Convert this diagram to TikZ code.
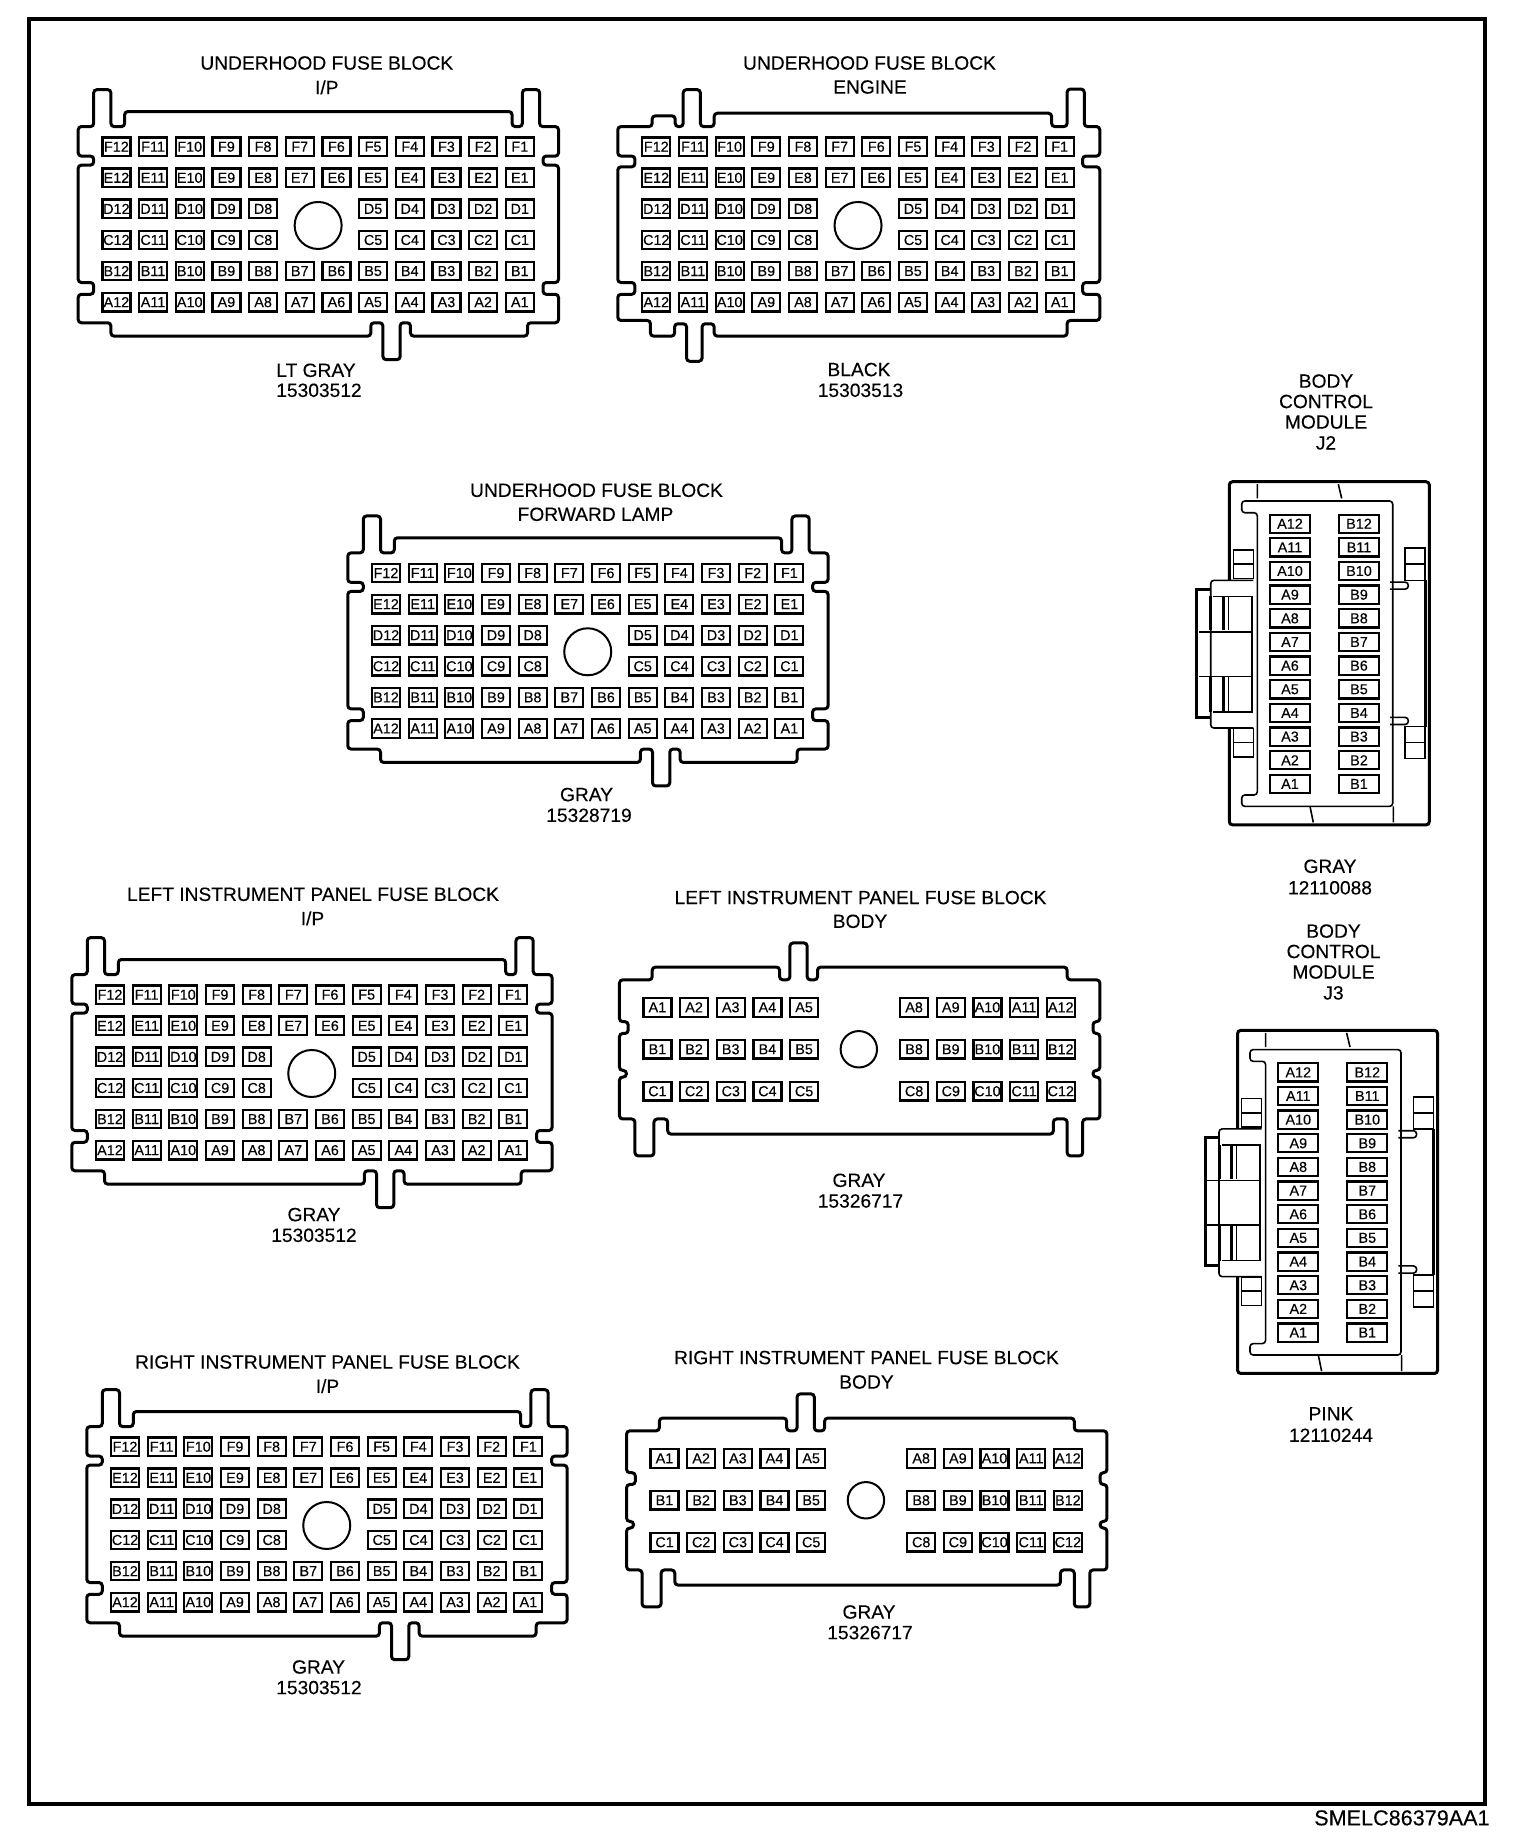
\documentclass[tikz,border=0pt]{standalone}
\usepackage{fontspec}
\setmainfont[FakeBold=0.2]{Liberation Sans}
\usepackage{tikz}
\usetikzlibrary{positioning}

% 72 pin block with its circle
\newcommand{\SixRow}[3]{
  \begin{scope}[shift={(#2,#3)}, Block]
    \foreach \l/\r in {F/0,E/1,B/4,A/5}
      \foreach \c in {1,...,12}
        \node[Pin] (#1\l\c) at ({(12-\c)*35.5},{\r*30.9}) {\l\c};
    \foreach \l/\r in {D/2,C/3}
      \foreach \c in {1,...,5,8,9,...,12}
        \node[Pin] (#1\l\c) at ({(12-\c)*35.5},{\r*30.9}) {\l\c};
    \node[Hole, minimum size=23.5pt] (#1hole) at (195.3,78.3) {};
  \end{scope}
}

% 30 pin block with its circle
\newcommand{\ThreeRow}[3]{
  \begin{scope}[shift={(#2,#3)}, Block]
    \foreach \l/\r in {A/0,B/1,C/2} {
      \foreach \c in {1,...,5}
        \node[Pin] (#1\l\c) at ({(\c-1)*35.5},{\r*41.7}) {\l\c};
      \foreach \c in {8,9,...,12}
        \node[Pin] (#1\l\c) at ({(\c-8)*35.5+248.5},{\r*41.7}) {\l\c};
    }
    \node[Hole, minimum size=18.2pt] (#1hole) at (195,41.7) {};
    \draw[Shell] (-5,-27.3) -- (-5,-40) -- (118.3,-40) -- (118.3,-27.3) -- (128.3,-27.3)
      -- (128.3,-64) -- (145,-64) -- (145,-27.3) -- (155,-27.3) -- (155,-40) -- (396.7,-40)
      -- (396.7,-27.3) -- (428.3,-27.3) -- (428.3,14.3) -- (421.7,14.3) -- (421.7,26) -- (428.3,26)
      -- (428.3,62.7) -- (421.7,62.7) -- (421.7,69.3) -- (428.3,69.3) -- (428.3,111) -- (411.7,111)
      -- (411.7,147.7) -- (396.7,147.7) -- (396.7,111) -- (383.3,111) -- (383.3,126) -- (10,126)
      -- (10,111) -- (-3.3,111) -- (-3.3,147.7) -- (-21.7,147.7) -- (-21.7,111) -- (-36.7,111)
      -- (-36.7,69.3) -- (-30,69.3) -- (-30,62.7) -- (-36.7,62.7) -- (-36.7,26) -- (-28.3,26)
      -- (-28.3,14.3) -- (-36.7,14.3) -- (-36.7,-27.3) -- cycle;
  \end{scope}
}

% shell with the key at the lower middle
\newcommand{\ShellMid}[2]{
  \draw[Shell, shift={(#1,#2)}, Block] (-5.3,-20) -- (-5.3,-56.7) -- (-22,-56.7) -- (-22,-20) -- (-37,-20)
    -- (-37,9.3) -- (-22,9.3) -- (-22,18.3) -- (-37,18.3) -- (-37,135) -- (-22,135) -- (-22,146.7)
    -- (-37,146.7) -- (-37,175) -- (-5.3,175) -- (-5.3,188.3) -- (246.3,188.3) -- (246.3,175)
    -- (258,175) -- (258,211.7) -- (274.7,211.7) -- (274.7,175) -- (284.7,175) -- (284.7,188.3)
    -- (398,188.3) -- (398,175) -- (428,175) -- (428,146.7) -- (413,146.7) -- (413,135) -- (428,135)
    -- (428,18.3) -- (413,18.3) -- (413,9.3) -- (428,9.3) -- (428,-20) -- (409.7,-20) -- (409.7,-56.7)
    -- (393,-56.7) -- (393,-20) -- (383,-20) -- (383,-35) -- (8,-35) -- (8,-20) -- cycle;
}

% two column module connector
\newcommand{\TwoCol}[3]{
  \begin{scope}[shift={(#2,#3)}, y=-0.534pt]
    \foreach \c in {1,...,12} {
      \node[LongPin] (#1A\c) at (0,{(12-\c)*22.15}) {A\c};
      \node[LongPin] (#1B\c) at (69,{(12-\c)*22.15}) {B\c};
    }
    % housing
    \draw[Shell] (-60.7,53) -- (-60.7,-39.3) -- (139.3,-39.3) -- (139.3,282) -- (-60.7,282) -- (-60.7,191.3);
    \draw[Inner] (-32.7,-10.3) -- (-48.3,-10.3) -- (-48.3,-21.3) -- (102.7,-21.3) -- (102.7,264.7)
      -- (-48.3,264.7) -- (-48.3,254) -- (-32.7,254) -- cycle;
    \draw[Inner, rounded corners=0pt] (-32.7,-23.7) -- (-32.7,-37) (48.3,-37) -- (51.7,-23.7)
      (20,264.7) -- (23.3,279.7) (103.3,264.7) -- (103.3,279.7);
    % clips
    \foreach \t in {23,190} {
      \draw[Inner, rounded corners=0pt] (-56.7,\t+1.7) rectangle (-36.7,\t+28.3)
        (-56.7,\t+15) -- (-36.7,\t+15);
      \draw[Inner, rounded corners=0pt] (115,\t) rectangle (135,\t+30)
        (115,\t+15) -- (135,\t+15);
    }
    \draw[Inner] (100,54.7) -- (118.3,54.7) -- (118.3,61.3) -- (100,61.3);
    \draw[Inner] (100,181.3) -- (118.3,181.3) -- (118.3,188) -- (100,188);
    \draw[Shell, rounded corners=0pt] (135,53) -- (135,190);
    % latch
    \draw[Inner] (-36.7,53) -- (-79.3,53) -- (-79.3,191.3) -- (-36.7,191.3);
    \draw[Shell, rounded corners=0pt] (-80,61.3) -- (-93.3,61.3) -- (-93.3,181.3) -- (-80,181.3);
    \draw[Inner, rounded corners=0pt] (-76.7,68) -- (-38.3,68) -- (-38.3,176.3) -- (-76.7,176.3)
      (-91,101.3) -- (-38.3,101.3) (-91,143) -- (-38.3,143)
      (-61.7,68) -- (-61.7,99.7) (-61.7,143) -- (-61.7,176.3);
    \draw[Shell, rounded corners=0pt] (-79.3,68) -- (-79.3,99.7) (-66.7,68) -- (-66.7,99.7)
      (-79.3,143) -- (-79.3,176.3) (-66.7,143) -- (-66.7,176.3);
  \end{scope}
}

\begin{document}
\begin{tikzpicture}
  [
    x=0.5pt, y=-0.5pt,
    Block/.style={x=0.5165pt, y=-0.503pt},
    Pin/.style={rectangle, draw=black, line width=1.1pt, inner sep=0pt, minimum width=14pt, minimum height=9.3pt, font=\fontsize{7.2}{8}\selectfont},
    LongPin/.style={Pin, minimum width=20pt, minimum height=9.1pt},
    Hole/.style={circle, draw=black, line width=1pt, inner sep=0pt},
    Shell/.style={draw=black, line width=1.5pt, rounded corners=1.6pt},
    Inner/.style={draw=black, line width=0.8pt, rounded corners=1.6pt},
    Caption/.style={inner sep=0pt, text height=6.9pt, text depth=0pt, font=\fontsize{9.6}{11}\selectfont}
  ]
  \useasboundingbox (0,0) rectangle (1520,1844);
  % Frame
  \draw[line width=2.2pt] (29,19) rectangle (1485,1804);

  % Blocks
  \SixRow{ui}{116.4}{146.7}
  \ShellMid{116.4}{146.7}

  \SixRow{ue}{656.3}{146.7}
  \draw[Shell, shift={(656.3,146.7)}, Block] (-37.3,-20) -- (-4,-20) -- (-4,-30.7) -- (18.3,-30.7) -- (18.3,-20)
    -- (26,-20) -- (26,-56.7) -- (42.7,-56.7) -- (42.7,-20) -- (56,-20) -- (56,-33.3) -- (382.7,-33.3)
    -- (382.7,-20) -- (397.7,-20) -- (397.7,-57.3) -- (414.3,-57.3) -- (414.3,-20) -- (429.3,-20)
    -- (429.3,9.3) -- (412.7,9.3) -- (412.7,20) -- (429.3,20) -- (429.3,135) -- (412.7,135) -- (412.7,146.7)
    -- (429.3,146.7) -- (429.3,172.7) -- (397.7,172.7) -- (397.7,188.3) -- (56,188.3) -- (56,176)
    -- (44.3,176) -- (44.3,213.3) -- (29.3,213.3) -- (29.3,176) -- (17.7,176) -- (17.7,188.3) -- (-5.7,188.3)
    -- (-5.7,172.7) -- (-37.3,172.7) -- (-37.3,146.7) -- (-20.7,146.7) -- (-20.7,135) -- (-37.3,135)
    -- (-37.3,20) -- (-20.7,20) -- (-20.7,9.3) -- (-37.3,9.3) -- cycle;

  \SixRow{uf}{386}{573}
  \ShellMid{386}{573}

  \SixRow{li}{110}{994.7}
  \ShellMid{110}{994.7}

  \ThreeRow{lb}{657.4}{1007.3}

  \SixRow{ri}{125}{1446.7}
  \ShellMid{125}{1446.7}

  \ThreeRow{rb}{664.5}{1458.3}

  \TwoCol{jb}{1290}{523.7}
  \TwoCol{jc}{1298.3}{1072.3}

  % Labels
  \node[Caption] (uiT) at (326.8,62.7) {UNDERHOOD FUSE BLOCK};
  \node[Caption] (uiS) at (326.8,87.3) {I/P};
  \node[Caption] (uiC) at (316,370) {LT GRAY};
  \node[Caption] (uiN) at (319,390) {15303512};

  \node[Caption] (ueT) at (869.5,62.7) {UNDERHOOD FUSE BLOCK};
  \node[Caption] (ueS) at (870,86.7) {ENGINE};
  \node[Caption] (ueC) at (859,369.3) {BLACK};
  \node[Caption] (ueN) at (860.5,390) {15303513};

  \node[Caption] (ufT) at (596.5,490) {UNDERHOOD FUSE BLOCK};
  \node[Caption] (ufS) at (595.5,514) {FORWARD LAMP};
  \node[Caption] (ufC) at (586.5,794.3) {GRAY};
  \node[Caption] (ufN) at (589,815) {15328719};

  \node[Caption] (liT) at (313,894) {LEFT INSTRUMENT PANEL FUSE BLOCK};
  \node[Caption] (liS) at (312.5,918.3) {I/P};
  \node[Caption] (liC) at (314,1214.3) {GRAY};
  \node[Caption] (liN) at (314,1235) {15303512};

  \node[Caption] (lbT) at (860.5,897.3) {LEFT INSTRUMENT PANEL FUSE BLOCK};
  \node[Caption] (lbS) at (860,921) {BODY};
  \node[Caption] (lbC) at (859,1180) {GRAY};
  \node[Caption] (lbN) at (860.5,1200.7) {15326717};

  \node[Caption] (riT) at (327.5,1361.7) {RIGHT INSTRUMENT PANEL FUSE BLOCK};
  \node[Caption] (riS) at (327.5,1386) {I/P};
  \node[Caption] (riC) at (318.5,1666.7) {GRAY};
  \node[Caption] (riN) at (319,1687.3) {15303512};

  \node[Caption] (rbT) at (866.5,1357.3) {RIGHT INSTRUMENT PANEL FUSE BLOCK};
  \node[Caption] (rbS) at (866.5,1381.7) {BODY};
  \node[Caption] (rbC) at (869,1611.7) {GRAY};
  \node[Caption] (rbN) at (870,1632.3) {15326717};

  \node[Caption] (jbA) at (1326,380.8) {BODY};
  \node[Caption] (jbB) at (1326,401.2) {CONTROL};
  \node[Caption] (jbD) at (1326,421.7) {MODULE};
  \node[Caption] (jbE) at (1326,442.6) {J2};
  \node[Caption] (jbC) at (1330,866) {GRAY};
  \node[Caption] (jbN) at (1330,887.5) {12110088};

  \node[Caption] (jcA) at (1333.5,930.8) {BODY};
  \node[Caption] (jcB) at (1333.5,951.2) {CONTROL};
  \node[Caption] (jcD) at (1333.5,971.7) {MODULE};
  \node[Caption] (jcE) at (1333.5,992.6) {J3};
  \node[Caption] (jcC) at (1331,1413.5) {PINK};
  \node[Caption] (jcN) at (1331,1435) {12110244};

  \node[Caption, anchor=east, text height=7.8pt, font=\fontsize{10.8}{12}\selectfont] (code) at (1490,1817.5) {SMELC86379AA1};
\end{tikzpicture}
\end{document}
